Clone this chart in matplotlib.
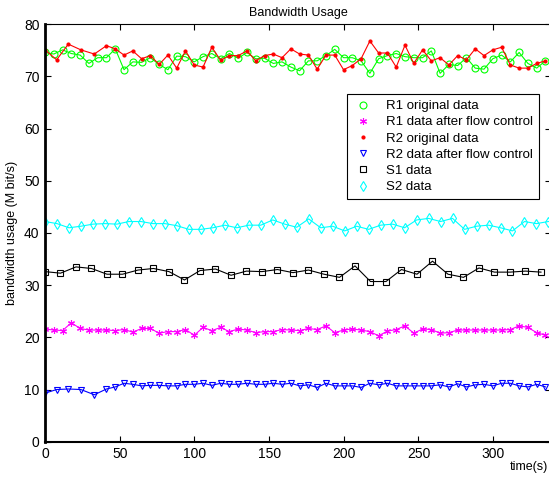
import numpy as np
import matplotlib
matplotlib.use('Agg')
import matplotlib.pyplot as plt
from matplotlib.lines import Line2D

plt.rcParams['font.family'] = ['Liberation Sans', 'DejaVu Sans']

# sample times (s)
t_r1 = np.linspace(0, 335, 58)
t_r2 = np.concatenate([[0, 7.8, 15.6, 24, 33], t_r1[7:]])
t_s1 = np.linspace(0, 332, 33)
t_s2 = np.linspace(0, 337, 43)

r1_orig = [74.6, 74.3, 75.1, 74.4, 74.1, 72.5, 73.6, 73.6, 75.3, 71.3,
           72.8, 72.7, 73.6, 72.3, 71.3, 73.9, 73.8, 72.8, 73.8, 74.4,
           73.4, 74.4, 73.5, 74.6, 73.4, 73.5, 72.5, 72.8, 71.8, 71.1,
           73.0, 73.0, 74.0, 75.2, 73.6, 73.6, 73.0, 70.6, 73.4, 74.0,
           74.4, 73.8, 73.6, 73.6, 74.9, 70.6, 72.3, 72.1, 73.6, 71.6,
           71.4, 73.4, 74.1, 72.8, 74.6, 72.5, 71.6, 73.0]

r1_flow = [21.6, 21.4, 21.3, 22.8, 21.7, 21.4, 21.4, 21.4, 21.3, 21.5,
           21.0, 21.7, 21.7, 20.8, 21.1, 21.1, 21.5, 20.4, 21.9, 21.3,
           21.9, 21.1, 21.6, 21.4, 20.9, 21.1, 21.1, 21.5, 21.4, 21.3,
           21.7, 21.5, 22.2, 20.9, 21.4, 21.6, 21.4, 21.1, 20.3, 21.2,
           21.5, 22.2, 20.8, 21.6, 21.5, 20.8, 20.9, 21.4, 21.4, 21.4,
           21.4, 21.4, 21.4, 21.5, 22.2, 21.9, 20.9, 20.4]

r2_orig = [75.1, 73.2, 76.2, 75.1, 74.3, 75.9, 75.3, 74.1, 74.9, 73.4,
           74.0, 72.3, 74.1, 71.6, 74.9, 72.2, 71.8, 75.6, 73.1, 74.0,
           74.0, 74.9, 73.0, 74.0, 74.3, 73.6, 75.3, 74.3, 74.1, 71.4,
           74.1, 74.1, 71.3, 72.1, 73.4, 76.8, 74.5, 74.5, 71.8, 76.0,
           72.5, 75.1, 73.0, 73.6, 72.2, 74.0, 73.2, 75.3, 74.0, 75.1,
           75.6, 72.2, 71.6, 71.6, 72.5, 73.0]

r2_flow = [9.3, 10.0, 10.1, 10.0, 9.0, 10.1, 10.5, 11.2, 11.0, 10.7,
           10.8, 10.8, 10.7, 10.7, 11.0, 11.0, 11.2, 10.8, 11.2, 11.0,
           11.0, 11.2, 11.0, 11.0, 11.2, 11.0, 11.2, 10.7, 10.9, 10.4,
           11.2, 10.7, 10.7, 10.7, 10.4, 11.2, 10.9, 11.2, 10.7, 10.7,
           10.7, 10.7, 10.7, 10.9, 10.5, 11.1, 10.5, 10.9, 11.0, 10.7,
           11.2, 11.2, 10.7, 10.5, 11.0, 10.5]

s1 = [32.6, 32.3, 33.5, 33.2, 32.1, 32.1, 32.9, 33.2, 32.6, 31.0,
      32.8, 33.1, 31.9, 32.7, 32.6, 33.0, 32.4, 32.9, 32.1, 31.5,
      33.7, 30.7, 30.7, 33.0, 32.1, 34.6, 32.1, 31.5, 33.3, 32.5,
      32.5, 32.7, 32.5]

s2 = [42.2, 41.8, 41.0, 41.3, 41.7, 41.8, 41.7, 42.2, 42.2, 41.8,
      41.8, 41.4, 40.7, 40.7, 41.0, 41.5, 41.0, 41.5, 41.5, 42.5,
      41.7, 41.1, 42.7, 41.0, 41.3, 40.4, 41.3, 40.7, 41.5, 41.7,
      41.0, 42.5, 42.8, 42.2, 42.8, 40.7, 41.3, 41.5, 41.0, 40.4,
      42.2, 41.8, 42.2]

# (times, values, colour, marker, size, filled, label)
series = [
    (t_r1, r1_orig, (0, 1, 0), 'o', 5, False, 'R1 original data'),
    (t_r1, r1_flow, (1, 0, 1), (6, 2, 0), 5, False, 'R1 data after flow control'),
    (t_r2, r2_orig, (1, 0, 0), 'o', 2.2, True, 'R2 original data'),
    (t_r2, r2_flow, (0, 0, 1), 'v', 5, False, 'R2 data after flow control'),
    (t_s1, s1, 'k', 's', 4.5, False, 'S1 data'),
    (t_s2, s2, (0, 1, 1), 'd', 5, False, 'S2 data'),
]

fig = plt.figure(figsize=(5.49, 4.8), dpi=100)
ax = fig.add_axes([45 / 549, 38.3 / 480, 506 / 549, 417.4 / 480])

handles = []
for t, v, c, m, ms, filled, lab in series:
    fc = c if filled else 'none'
    ax.plot(t, v, color=c, marker=m, markersize=ms, markerfacecolor=fc,
            markeredgecolor=c, linewidth=0.8, markeredgewidth=0.8)
    handles.append(Line2D([], [], linestyle='none', marker=m, markersize=ms,
                          markerfacecolor=fc, markeredgecolor=c,
                          markeredgewidth=0.8, label=lab))

ax.set_xlim(0, 338.7)
ax.set_ylim(0, 80)
ax.set_xticks([0, 50, 100, 150, 200, 250, 300])
ax.set_yticks(range(0, 81, 10))
ax.tick_params(direction='in', length=4, width=0.8, labelsize=10,
               top=True, right=True, pad=4)
ax.spines['left'].set_linewidth(2)
ax.spines['bottom'].set_linewidth(1.5)
ax.spines['top'].set_linewidth(0.8)

ax.set_title('Bandwidth Usage', fontsize=9, pad=6)
ax.set_ylabel('bandwidth usage (M bit/s)', fontsize=9, labelpad=4)
fig.text(548 / 549, 1 - 467 / 480, 'time(s)', ha='right', va='center', fontsize=9)

leg = ax.legend(handles=handles, loc='upper left',
                bbox_to_anchor=(347 / 549, 1 - 94 / 480),
                bbox_transform=fig.transFigure, borderaxespad=0,
                fontsize=9.5, fancybox=False, framealpha=1,
                handlelength=1.6, handletextpad=0.9, labelspacing=0.3,
                borderpad=0.45)
leg.get_frame().set_edgecolor('k')
leg.get_frame().set_linewidth(0.8)

fig.savefig('out.png', dpi=100)
